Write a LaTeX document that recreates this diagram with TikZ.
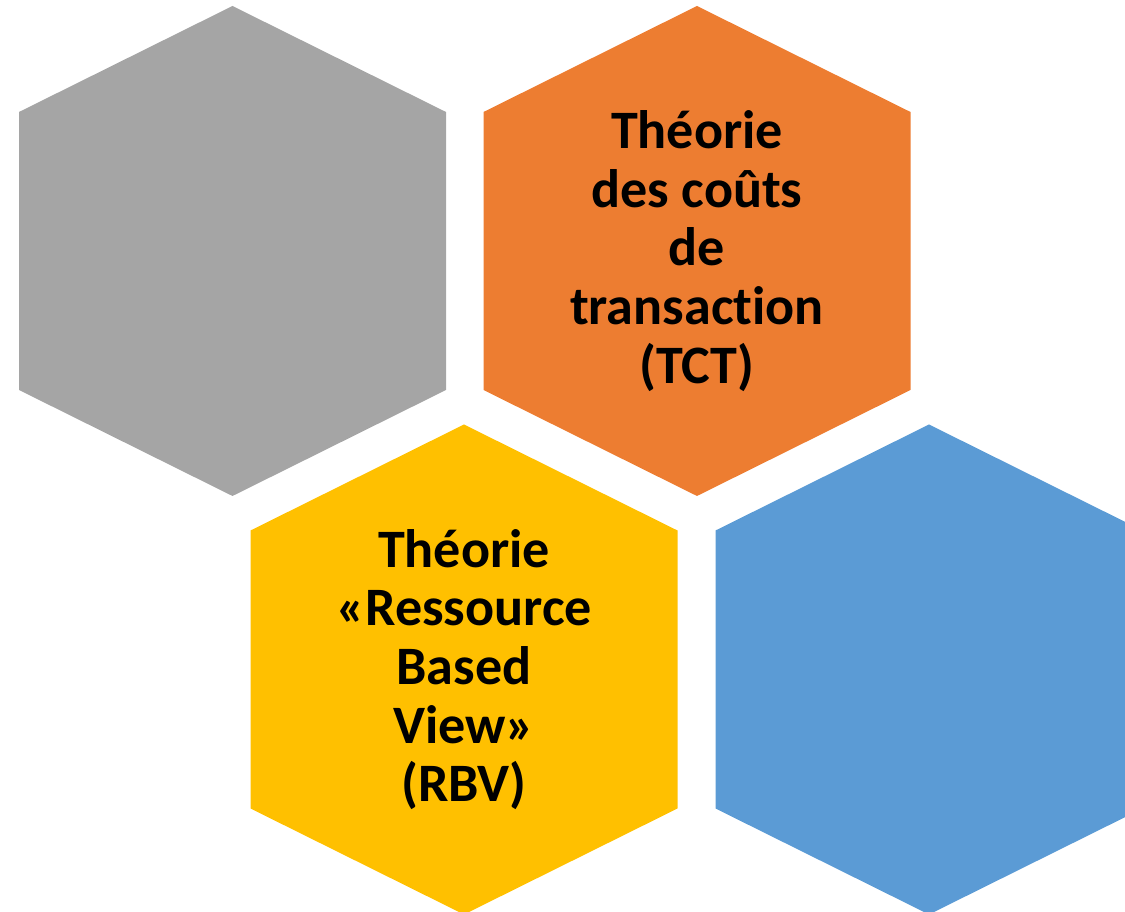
\documentclass[tikz,border=0pt]{standalone}
\usepackage{fontspec}
\setmainfont{Carlito}[Ligatures=NoCommon]
\usepackage{tikz}

\definecolor{hexgray}{HTML}{A5A5A5}
\definecolor{hexorange}{HTML}{ED7D31}
\definecolor{hexyellow}{HTML}{FFC000}
\definecolor{hexblue}{HTML}{5B9BD5}

\tikzset{
  theory/.style={align=center, text=black, inner sep=0pt,
    font=\fontsize{15.4}{16.7}\selectfont\bfseries}
}

\begin{document}
\begin{tikzpicture}[scale=1]
\useasboundingbox (0,0) rectangle (11.25,9.12);
\clip (0,0) rectangle (11.25,9.12);
\foreach \cx/\cy/\col in {2.325/6.61/hexgray, 6.97/6.61/hexorange, 4.64/2.425/hexyellow, 9.29/2.425/hexblue}
  \fill[\col] (\cx,\cy+2.45) -- (\cx+2.135,\cy+1.39) -- (\cx+2.135,\cy-1.39)
    -- (\cx,\cy-2.45) -- (\cx-2.135,\cy-1.39) -- (\cx-2.135,\cy+1.39) -- cycle;
\node[theory] (tct) at (6.97,6.61) {Théorie\\des coûts\\de\\transaction\\(TCT)};
\node[theory] (rbv) at (4.64,2.425) {Théorie\\«Ressource\\Based\\View»\\(RBV)};
\end{tikzpicture}
\end{document}
